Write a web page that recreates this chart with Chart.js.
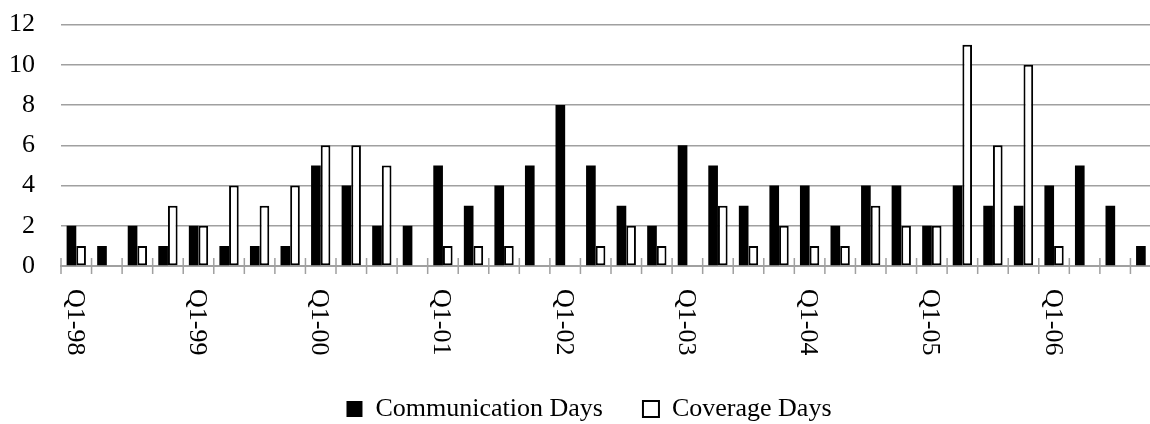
<!DOCTYPE html>
<html>
<head>
<meta charset="utf-8">
<script src="https://cdn.jsdelivr.net/npm/chart.js@4.4.1/dist/chart.umd.min.js"></script>
<style>
  html, body { margin: 0; padding: 0; overflow: hidden; background: #fff; }
  #wrap { position: relative; width: 1161px; height: 449px; margin-top: -17px; }
</style>
</head>
<body>
<div id="wrap"><canvas id="daysChart"></canvas></div>
<script>
const quarters = [
  'Q1-98', 'Q2-98', 'Q3-98', 'Q4-98',
  'Q1-99', 'Q2-99', 'Q3-99', 'Q4-99',
  'Q1-00', 'Q2-00', 'Q3-00', 'Q4-00',
  'Q1-01', 'Q2-01', 'Q3-01', 'Q4-01',
  'Q1-02', 'Q2-02', 'Q3-02', 'Q4-02',
  'Q1-03', 'Q2-03', 'Q3-03', 'Q4-03',
  'Q1-04', 'Q2-04', 'Q3-04', 'Q4-04',
  'Q1-05', 'Q2-05', 'Q3-05', 'Q4-05',
  'Q1-06', 'Q2-06', 'Q3-06', 'Q4-06'
];

const communicationDays = [
  2, 1, 2, 1,
  2, 1, 1, 1,
  5, 4, 2, 2,
  5, 3, 4, 5,
  8, 5, 3, 2,
  6, 5, 3, 4,
  4, 2, 4, 4,
  2, 4, 3, 3,
  4, 5, 3, 1
];

const coverageDays = [
  1, 0, 1, 3,
  2, 4, 3, 4,
  6, 6, 5, 0,
  1, 1, 1, 0,
  0, 1, 2, 1,
  0, 3, 1, 2,
  1, 1, 3, 2,
  2, 11, 6, 10,
  1, 0, 0, 0
];

const yTicks = [0, 2, 4, 6, 8, 10, 12];

const FONT = '"Liberation Serif", "Times New Roman", serif';
const GRID = '#a0a0a0';

// Excel style axis: tick marks crossing the baseline, labels rotated to read downward
const quarterAxis = {
  id: 'quarterAxis',
  afterLayout(chart) {
    // legend is centred on the whole chart in the original, nudge it a bit right
    chart.legend.left += 17;
  },
  afterDraw(chart) {
    const { ctx, chartArea } = chart;
    const x = chart.scales.x;
    const step = chartArea.width / quarters.length;
    ctx.save();
    ctx.strokeStyle = GRID;
    ctx.lineWidth = 1.5;
    ctx.beginPath();
    for (let i = 0; i <= quarters.length; i++) {
      const px = chartArea.left + i * step;
      ctx.moveTo(px, chartArea.bottom - 8);
      ctx.lineTo(px, chartArea.bottom + 8);
    }
    ctx.stroke();

    ctx.fillStyle = '#000';
    ctx.font = '26px ' + FONT;
    ctx.textAlign = 'left';
    ctx.textBaseline = 'alphabetic';
    quarters.forEach((q, i) => {
      if (i % 4 !== 0) return;
      ctx.save();
      ctx.translate(x.getPixelForValue(i) - 8.5, chartArea.bottom + 23);
      ctx.rotate(Math.PI / 2);
      ctx.fillText(q, 0, 0);
      ctx.restore();
    });
    ctx.restore();
  }
};

new Chart(document.getElementById('daysChart'), {
  type: 'bar',
  data: {
    labels: quarters,
    datasets: [
      {
        label: 'Communication Days',
        data: communicationDays,
        backgroundColor: '#000',
        borderColor: '#000',
        borderWidth: 0,
        categoryPercentage: 0.632,
        barPercentage: 1
      },
      {
        label: 'Coverage Days',
        data: coverageDays,
        backgroundColor: '#fff',
        borderColor: '#000',
        borderWidth: 2,
        borderSkipped: false,
        categoryPercentage: 0.632,
        barPercentage: 1
      }
    ]
  },
  options: {
    responsive: true,
    maintainAspectRatio: false,
    animation: false,
    layout: { padding: 0 },
    scales: {
      x: {
        ticks: { display: false },
        grid: { display: false },
        border: { display: true, color: GRID, width: 2 },
        afterFit: s => { s.height = 90; }
      },
      y: {
        min: 0,
        max: 12,
        afterBuildTicks: s => { s.ticks = yTicks.map(v => ({ value: v })); },
        ticks: { color: '#000', font: { family: FONT, size: 26 }, padding: 26 },
        grid: { color: GRID, lineWidth: 1.5, drawTicks: false },
        border: { display: false },
        afterFit: s => { s.width = 61; }
      }
    },
    plugins: {
      legend: {
        position: 'bottom',
        labels: {
          color: '#000',
          font: { family: FONT, size: 26 },
          boxWidth: 16,
          boxHeight: 16,
          padding: 40
        }
      },
      tooltip: { enabled: false }
    }
  },
  plugins: [quarterAxis]
});
</script>
</body>
</html>
